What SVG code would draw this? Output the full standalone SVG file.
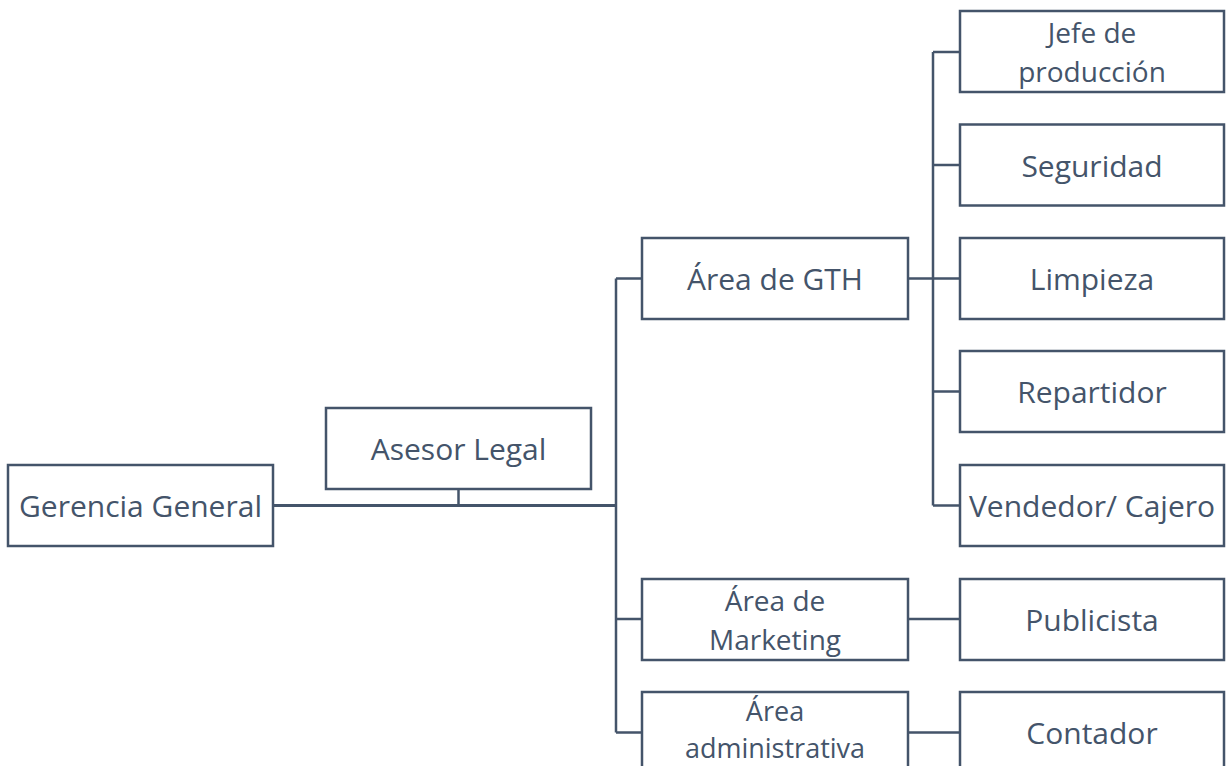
<svg xmlns="http://www.w3.org/2000/svg" width="1227" height="766" viewBox="0 0 1227 766">
<style>
.box{fill:#fff;stroke:#44546A;stroke-width:2.5}
.t{font-family:"Open Sans","Noto Sans",sans-serif;font-size:30px;fill:#44546A;text-anchor:middle;dominant-baseline:central}
.t2{font-size:28px}
.t3{font-size:27px}
.c{fill:none;stroke:#44546A;stroke-width:2.5}
</style>
<rect width="1227" height="766" fill="#fff"/>
<g id="connectors">
<path class="c" d="M273 505.5H616" style="stroke-width:3"/>
<path class="c" d="M458.5 489V505.5"/>
<path class="c" d="M616 278.5V732.5M616 278.5H642M616 619H642M616 732.5H642"/>
<path class="c" d="M908 278.5H960M933 52V505.5M933 52H960M933 165H960M933 391.5H960M933 505.5H960"/>
<path class="c" d="M908 619H960M908 732.5H960"/>
</g>
<g id="gerencia"><rect class="box" x="8" y="465" width="265" height="81"/><text class="t" x="140.5" y="505.5">Gerencia General</text></g>
<g id="asesor"><rect class="box" x="326" y="408" width="265" height="81"/><text class="t" x="458.5" y="448.5">Asesor Legal</text></g>
<g id="gth"><rect class="box" x="642" y="238" width="266" height="81"/><text class="t" x="775" y="278.5">Área de GTH</text></g>
<g id="marketing"><rect class="box" x="642" y="579" width="266" height="81"/><text class="t t2" x="775" y="600">Área de</text><text class="t t2" x="775" y="638.5">Marketing</text></g>
<g id="admin"><rect class="box" x="642" y="692" width="266" height="82"/><text class="t t3" x="775" y="710.5">Área</text><text class="t t3" x="775" y="747">administrativa</text></g>
<g id="jefe"><rect class="box" x="960" y="11" width="264" height="81"/><text class="t t2" x="1092" y="32">Jefe de</text><text class="t t2" x="1092" y="70.5">producción</text></g>
<g id="seguridad"><rect class="box" x="960" y="124.5" width="264" height="81"/><text class="t" x="1092" y="165">Seguridad</text></g>
<g id="limpieza"><rect class="box" x="960" y="238" width="264" height="81"/><text class="t" x="1092" y="278.5">Limpieza</text></g>
<g id="repartidor"><rect class="box" x="960" y="351" width="264" height="81"/><text class="t" x="1092" y="391.5">Repartidor</text></g>
<g id="vendedor"><rect class="box" x="960" y="465" width="264" height="81"/><text class="t" x="1092" y="505.5">Vendedor/ Cajero</text></g>
<g id="publicista"><rect class="box" x="960" y="579" width="264" height="81"/><text class="t" x="1092" y="619">Publicista</text></g>
<g id="contador"><rect class="box" x="960" y="692" width="264" height="82"/><text class="t" x="1092" y="732.5">Contador</text></g>
</svg>
